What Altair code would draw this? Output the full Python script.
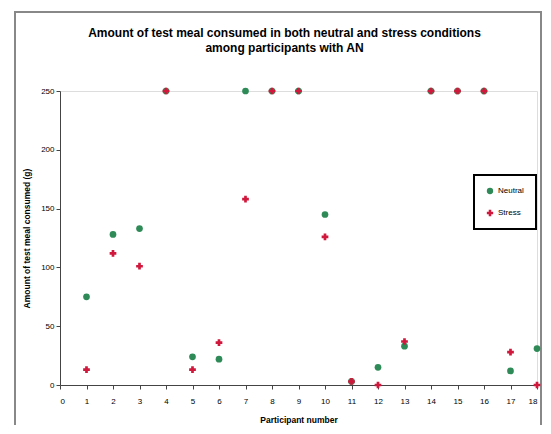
import altair as alt
import pandas as pd

participants = list(range(1, 19))
neutral = [75, 128, 133, 250, 24, 22, 250, 250, 250, 145, 3, 15, 33, 250, 250, 250, 12, 31]
stress = [13, 112, 101, 250, 13, 36, 158, 250, 250, 126, 3, 0, 37, 250, 250, 250, 28, 0]
conditions = ["Neutral", "Stress"]
colors = ["#2e8b57", "#d0183c"]

rows = []
for p, n, s in zip(participants, neutral, stress):
    rows.append({"Participant": p, "Condition": "Neutral", "Amount": n})
    rows.append({"Participant": p, "Condition": "Stress", "Amount": s})
df = pd.DataFrame(rows)

frame = alt.Chart(pd.DataFrame({"a": [0]})).mark_rect(
    fill=None, stroke="#888888", strokeWidth=2
).encode(
    x=alt.value(-45), x2=alt.value(481), y=alt.value(-79), y2=alt.value(340)
)

points = alt.Chart(df).mark_point(filled=True, opacity=1, size=45).encode(
    x=alt.X("Participant:Q",
            scale=alt.Scale(domain=[0, 18], nice=False),
            axis=alt.Axis(title="Participant number", values=list(range(0, 19)),
                          grid=False, labelFontSize=8, titleFontSize=8.5,
                          titleFontWeight="bold", tickSize=4, domainColor="#444",
                          tickColor="#444", labelPadding=8, titlePadding=10)),
    y=alt.Y("Amount:Q",
            scale=alt.Scale(domain=[0, 250], nice=False),
            axis=alt.Axis(title="Amount of test meal consumed (g)",
                          values=[0, 50, 100, 150, 200, 250],
                          grid=False, labelFontSize=8, titleFontSize=8.5,
                          titleFontWeight="bold", tickSize=4, domainColor="#444",
                          tickColor="#444", titlePadding=9)),
    color=alt.Color("Condition:N",
                    scale=alt.Scale(domain=conditions, range=colors),
                    legend=alt.Legend(title=None, orient="none", legendX=414, legendY=84,
                                      strokeColor="black", padding=12, rowPadding=14,
                                      labelFontSize=8, symbolSize=40,
                                      fillColor="white")),
    shape=alt.Shape("Condition:N",
                    scale=alt.Scale(domain=conditions, range=["circle", "cross"]),
                    legend=None),
    order=alt.Order("Condition:N", sort="ascending"),
)

chart = alt.layer(frame, points).properties(
    width=477, height=294,
    autosize=alt.AutoSizeParams(type="none"),
    padding={"left": 52, "top": 83, "right": 6, "bottom": 40},
    title=alt.Title(
        ["Amount of test meal consumed in both neutral and stress conditions",
         "among participants with AN"],
        fontSize=12, fontWeight="bold", anchor="middle", dx=-14, offset=-44,
        lineHeight=15,
    ),
).configure_view(stroke=None).configure(font="Liberation Sans").configure_legend(
    strokeWidth=2
)

chart.save("out.html", embed_options={"renderer": "svg", "actions": False})
